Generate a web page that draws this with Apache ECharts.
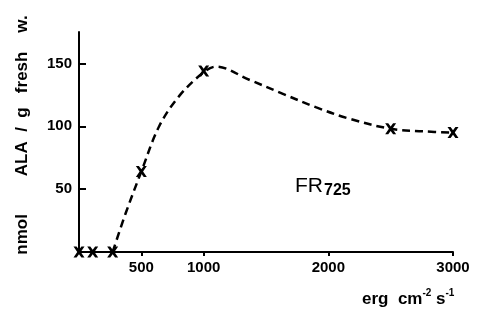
<!DOCTYPE html>
<html>
<head>
<meta charset="utf-8">
<script src="https://cdn.jsdelivr.net/npm/echarts@6/dist/echarts.min.js"></script>
<style>
  html, body { margin: 0; padding: 0; background: #fff; }
  #chart { width: 482px; height: 313px; }
</style>
</head>
<body>
<div id="chart"></div>
<script>
// measured points (irradiance, ALA)
var pointX = [0, 110, 270, 500, 1000, 2500, 3000]
var pointY = [0, 0, 0, 64, 144, 98, 95]
// hand-drawn dashed curve
var curveX = [270, 375, 500, 643, 803, 1000, 1100, 1365, 1631, 1904, 2169, 2500, 2755, 3000]
var curveY = [0, 31, 64, 100, 124, 143, 147.5, 137, 126, 115, 106, 98, 96, 95]
var xTicks = [500, 1000, 2000, 3000]
var yTicks = [50, 100, 150]

var chart = echarts.init(document.getElementById('chart'))
var font = 'Liberation Sans, Arial, sans-serif'
var cross = 'path://M0,0 L2.8,0 L5,3 L7.2,0 L10,0 L6.6,5 L10,10 L7.2,10 L5,7 L2.8,10 L0,10 L3.4,5 Z'

var option = {
  animation: false,
  grid: { left: 79, right: 29, top: 32, bottom: 61 },
  xAxis: {
    type: 'value',
    min: 0,
    max: 3000,
    interval: 500,
    axisLine: { show: true, onZero: false, lineStyle: { color: '#000', width: 2 } },
    axisTick: {
      show: true, inside: false, length: 4,
      lineStyle: { color: '#000', width: 2 },
      customValues: xTicks
    },
    axisLabel: {
      color: '#000', fontSize: 15, fontWeight: 'bold', fontFamily: font, margin: 8,
      customValues: xTicks,
      formatter: function (v) { return String(v) }
    },
    splitLine: { show: false }
  },
  yAxis: {
    type: 'value',
    min: 0,
    max: 175,
    interval: 50,
    axisLine: { show: true, onZero: false, lineStyle: { color: '#000', width: 2 } },
    axisTick: {
      show: true, inside: true, length: 7,
      lineStyle: { color: '#000', width: 2 },
      customValues: yTicks
    },
    axisLabel: {
      color: '#000', fontSize: 15, fontWeight: 'bold', fontFamily: font, margin: 7,
      customValues: yTicks,
      formatter: function (v) { return String(v) }
    },
    splitLine: { show: false }
  },
  series: [
    {
      type: 'line',
      smooth: 0.35,
      symbol: 'none',
      lineStyle: { color: '#000', width: 2.5, type: [8, 5] },
      data: curveX.map(function (x, i) { return [x, curveY[i]] }),
      z: 2
    },
    {
      type: 'line',
      symbol: cross,
      symbolSize: 11,
      itemStyle: { color: '#000' },
      lineStyle: { width: 0 },
      data: pointX.map(function (x, i) { return [x, pointY[i]] }),
      z: 3
    }
  ],
  graphic: [
    {
      type: 'text',
      x: 22, y: 135,
      rotation: Math.PI / 2,
      style: {
        text: 'nmol        ALA  /  g   fresh    w.',
        font: 'bold 17px ' + font,
        fill: '#000',
        align: 'center',
        verticalAlign: 'middle'
      }
    },
    {
      type: 'text',
      x: 295, y: 186,
      style: {
        text: '{a|FR}{b|725}',
        fill: '#000',
        verticalAlign: 'middle',
        rich: {
          a: { font: '21px ' + font, fill: '#000' },
          b: { font: 'bold 16px ' + font, fill: '#000', padding: [10, 0, 0, 1] }
        }
      }
    },
    {
      type: 'text',
      x: 362, y: 299,
      style: {
        text: '{a|erg  cm}{s|-2}{a| s}{s|-1}',
        fill: '#000',
        verticalAlign: 'middle',
        rich: {
          a: { font: 'bold 17px ' + font, fill: '#000' },
          s: { font: 'bold 10px ' + font, fill: '#000', padding: [0, 0, 11, 0] }
        }
      }
    }
  ]
}
chart.setOption(option)
</script>
</body>
</html>
